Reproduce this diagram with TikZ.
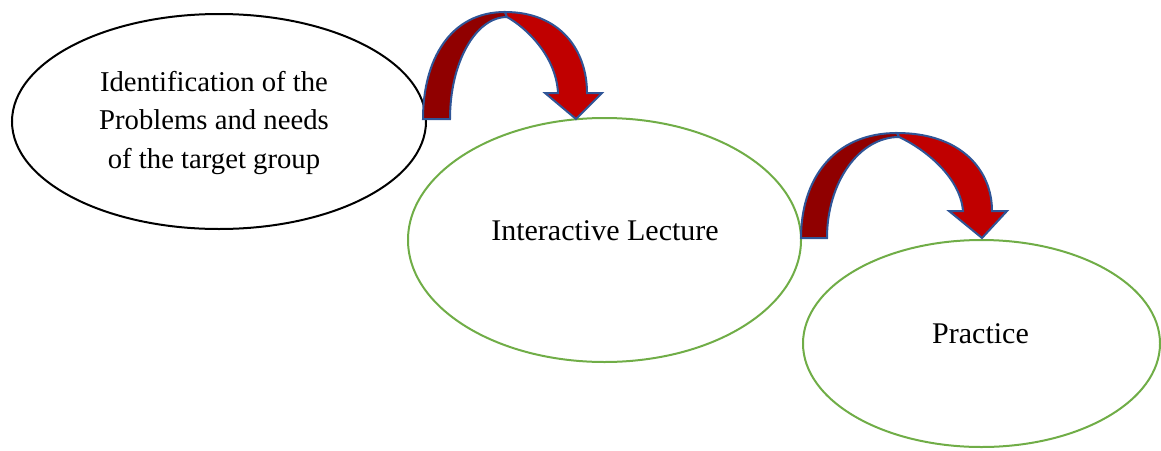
\documentclass[tikz,border=0pt]{standalone}
\usepackage{fontspec}
\setmainfont{Liberation Serif}
\usetikzlibrary{shapes.geometric}
\definecolor{darkred}{HTML}{900000}
\definecolor{lightred}{HTML}{C00000}
\definecolor{arrowblue}{HTML}{2F5597}
\definecolor{leafgreen}{HTML}{70AD47}
\tikzset{
  oval/.style={ellipse, draw, line width=2pt, inner sep=0pt, fill=none},
  label text/.style={inner sep=0pt, align=center, font=\fontsize{28.7}{38.5}\selectfont},
  big text/.style={inner sep=0pt, font=\fontsize{30}{36}\selectfont},
  backpart/.style={fill=darkred, draw=arrowblue, line width=2pt, line join=miter},
  frontpart/.style={fill=lightred, draw=arrowblue, line width=2pt, line join=miter},
}
\begin{document}
\begin{tikzpicture}[x=1pt,y=1pt]
\useasboundingbox (0,0) rectangle (1161,-450);
% ellipses
\node[oval, draw=black, minimum width=414pt, minimum height=215pt] (e1) at (219,-121.5) {};
\node[oval, draw=leafgreen, minimum width=393pt, minimum height=244pt] (e2) at (604.5,-240) {};
\node[oval, draw=leafgreen, minimum width=357pt, minimum height=207pt] (e3) at (981.5,-343.5) {};
% texts
\node[label text] (t1) at (214,-122.5) {Identification of the\\Problems and needs\\of the target group};
\node[big text, anchor=base] (t2) at (605,-240) {Interactive Lecture};
\node[big text, anchor=base] (t3) at (980.5,-343) {Practice};
% curved arrow 1 (from e1 to e2)
\draw[backpart] (423,-119) .. controls (423,-60) and (450,-12) .. (505,-12)
  -- (507,-17) arc[start angle=90, end angle=180, x radius=57, y radius=102] -- cycle;
\draw[frontpart] (505,-12) .. controls (560,-12) and (587,-50) .. (587,-93)
  -- (602,-93) -- (576,-119) -- (545,-93) -- (558,-93)
  .. controls (556,-55) and (525,-27) .. (507,-17) -- cycle;
% curved arrow 2 (from e2 to e3)
\draw[backpart] (801,-238) .. controls (801,-180) and (833,-133) .. (897,-133)
  -- (899,-137) arc[start angle=90, end angle=180, x radius=72, y radius=101] -- cycle;
\draw[frontpart] (897,-133) .. controls (961,-133) and (992,-170) .. (992,-211)
  -- (1007,-211) -- (982,-238) -- (949,-211) -- (963,-211)
  .. controls (960,-175) and (921,-147) .. (899,-137) -- cycle;
\end{tikzpicture}
\end{document}
